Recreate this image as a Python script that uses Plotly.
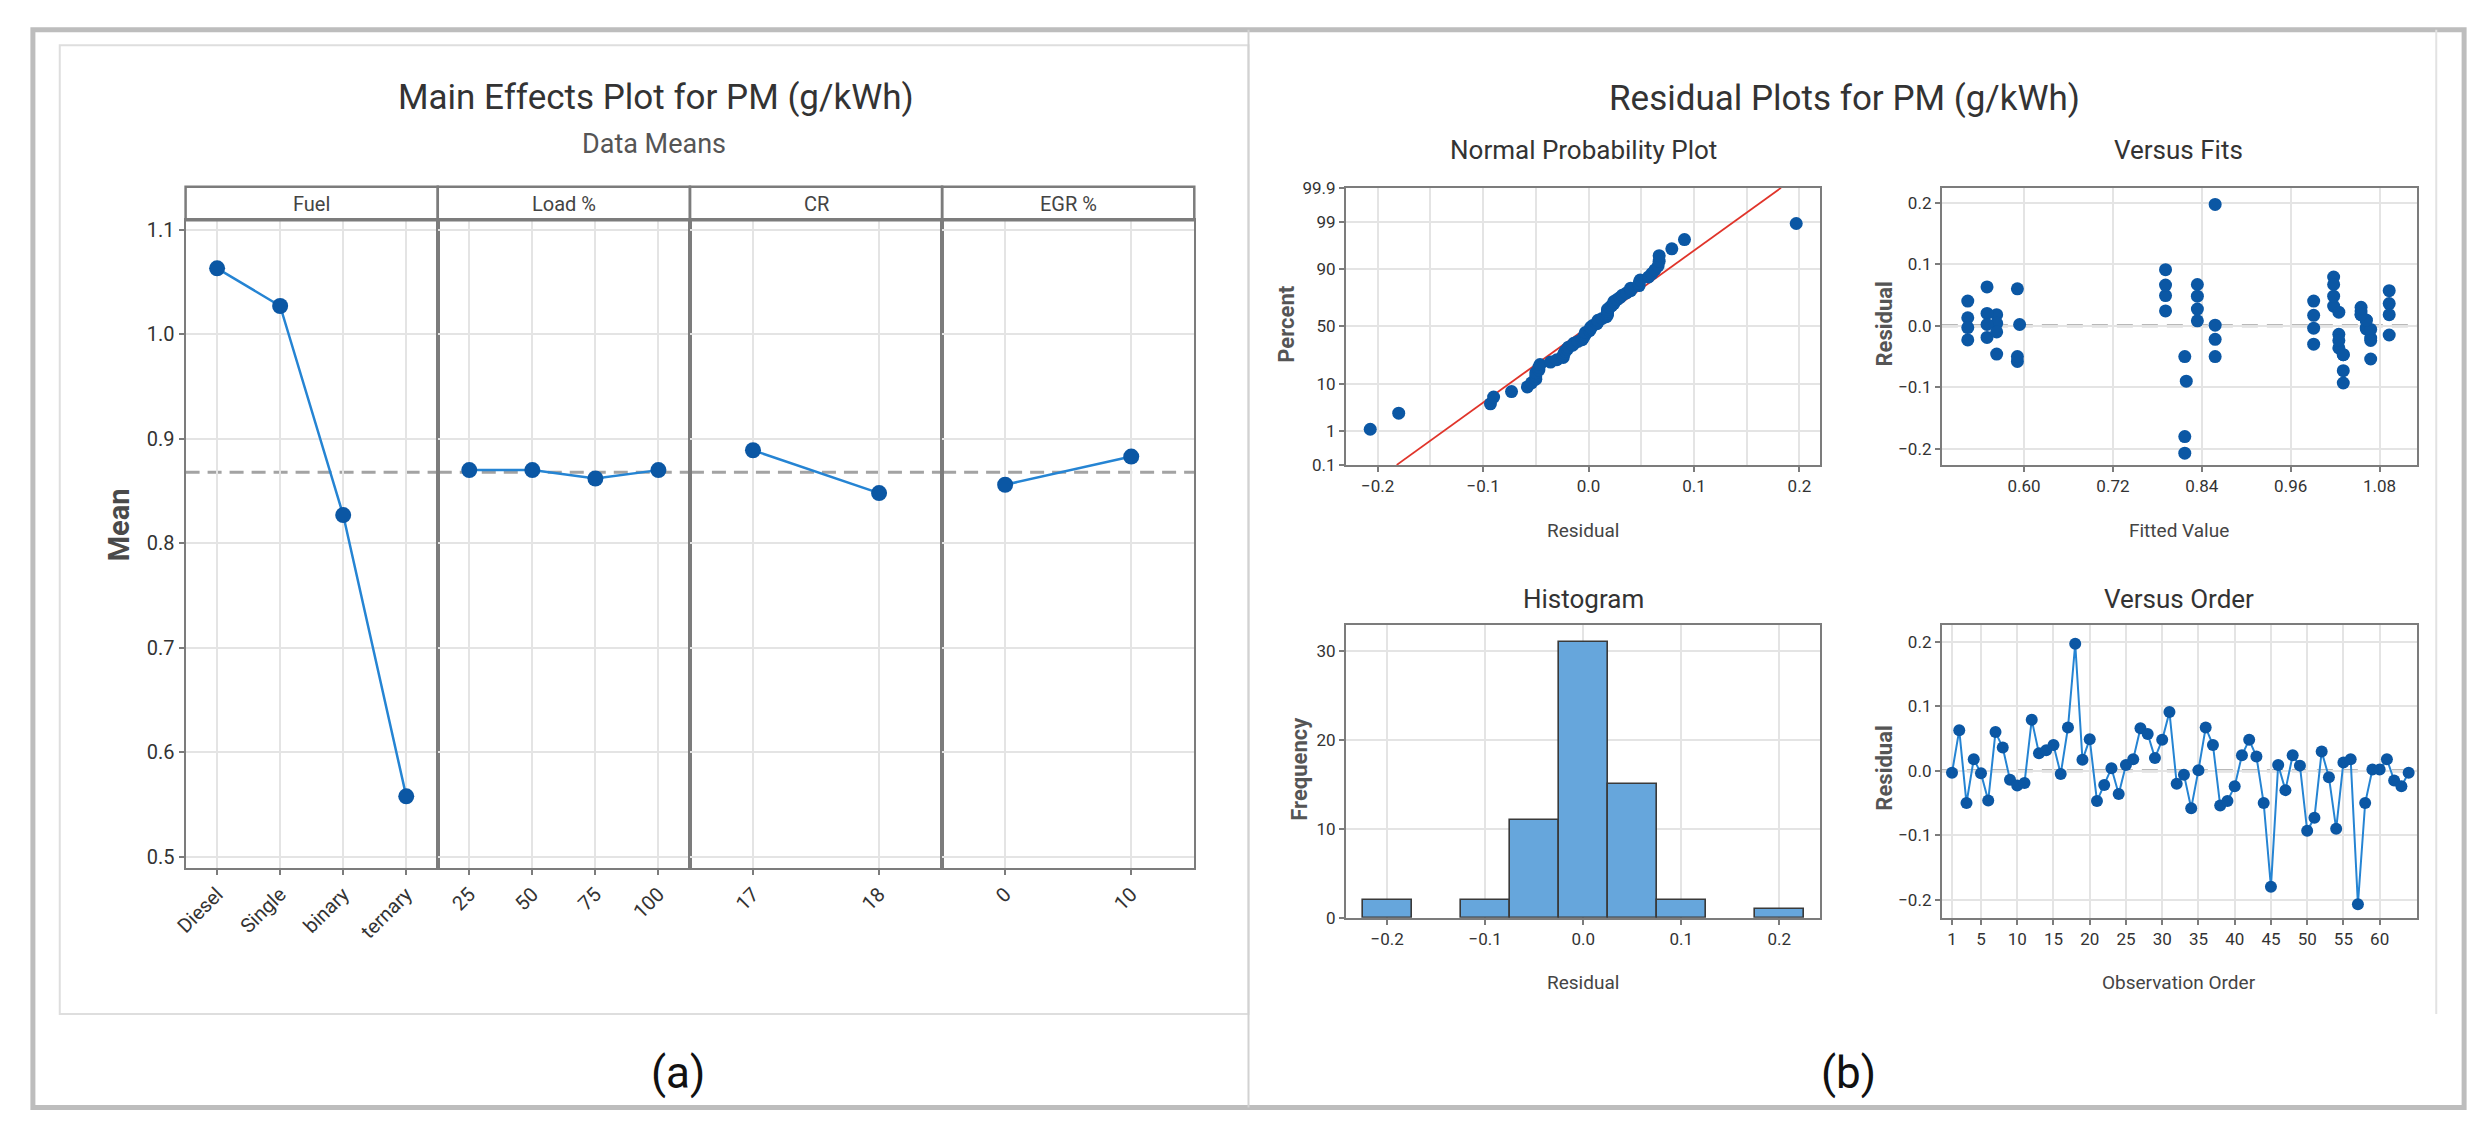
import plotly.graph_objects as go
from statistics import NormalDist

W, H = 2484, 1142
FONT = "Roboto, sans-serif"

# ---- main effects (data means) ----
fuel_levels = ["Diesel", "Single", "binary", "ternary"]
fuel_means = [1.063, 1.027, 0.827, 0.558]
load_levels = ["25", "50", "75", "100"]
load_means = [0.870, 0.870, 0.862, 0.870]
cr_levels = ["17", "18"]
cr_means = [0.889, 0.848]
egr_levels = ["0", "10"]
egr_means = [0.856, 0.883]
grand_mean = 0.868

# ---- residuals in observation order, and their fitted values ----
residuals = [-0.003, 0.063, -0.050, 0.018, -0.004, -0.046, 0.060, 0.036,
             -0.014, -0.023, -0.019, 0.079, 0.027, 0.032, 0.040, -0.005,
             0.067, 0.197, 0.017, 0.049, -0.047, -0.022, 0.004, -0.036,
             0.009, 0.018, 0.066, 0.057, 0.020, 0.048, 0.091, -0.020,
             -0.006, -0.058, 0.001, 0.067, 0.040, -0.054, -0.047, -0.024,
             0.024, 0.048, 0.022, -0.050, -0.180, 0.009, -0.030, 0.024,
             0.008, -0.093, -0.073, 0.030, -0.010, -0.090, 0.013, 0.018,
             -0.207, -0.050, 0.002, 0.002, 0.018, -0.015, -0.024, -0.003]
fitted = [1.062, 0.550, 0.858, 0.563, 0.991, 0.563, 0.591, 1.093,
          1.025, 0.524, 0.550, 1.018, 0.834, 1.018, 0.524, 1.062,
          1.018, 0.858, 0.991, 0.791, 1.031, 0.858, 0.563, 1.025,
          1.062, 1.055, 0.791, 1.093, 0.550, 1.018, 0.791, 1.068,
          1.068, 0.591, 0.858, 0.834, 0.991, 1.068, 1.031, 1.025,
          0.791, 0.834, 1.025, 0.817, 0.817, 1.062, 0.991, 1.055,
          0.834, 1.031, 1.031, 1.055, 0.563, 0.819, 0.524, 1.093,
          0.817, 0.591, 0.550, 0.594, 1.055, 1.093, 1.068, 0.524]
order = list(range(1, len(residuals) + 1))

pct_ticks = [0.1, 1, 10, 50, 90, 99, 99.9]
order_ticks = [1, 5, 10, 15, 20, 25, 30, 35, 40, 45, 50, 55, 60]
fit_ticks = [0.60, 0.72, 0.84, 0.96, 1.08]
res_ticks = [-0.2, -0.1, 0.0, 0.1, 0.2]

# normal probability plot positions (median ranks)
nd = NormalDist()
n = len(residuals)
res_sorted = sorted(residuals)
npp_z = [nd.inv_cdf((i + 0.7) / (n + 0.4)) for i in range(n)]
mu = sum(residuals) / n
sd = (sum((r - mu) ** 2 for r in residuals) / (n - 1)) ** 0.5
z_lim = nd.inv_cdf(0.999)


def px(x):
    return x / W


def py(y):
    return 1 - y / H


BLUE_M = "#0b57a4"
BLUE_L = "#2584d3"
GRID = "#e4e4e4"
FRAME = "#7c7c7c"
DASH = "#a3a3a3"


def ax(**kw):
    d = dict(showline=True, linecolor=FRAME, linewidth=2, mirror=True,
             showgrid=True, gridcolor=GRID, gridwidth=2, zeroline=False,
             ticks="outside", ticklen=5, tickwidth=1.5, tickcolor=FRAME,
             tickfont=dict(family=FONT, size=17, color="#333"))
    d.update(kw)
    return d


fig = go.Figure()

# ---- (a) main effects panels ----
panels = [(fuel_levels, fuel_means), (load_levels, load_means),
          (cr_levels, cr_means), (egr_levels, egr_means)]
strip_names = ["Fuel", "Load %", "CR", "EGR %"]
edges = [173.5, 427, 680.5, 934, 1187.5]
me_top, me_bot = 214, 873

for i, (lv, mv) in enumerate(panels):
    k = "" if i == 0 else str(i + 1)
    fig.add_trace(go.Scatter(x=lv, y=mv, mode="lines+markers",
                             xaxis="x" + k, yaxis="y" + k,
                             line=dict(color=BLUE_L, width=2.5),
                             marker=dict(color=BLUE_M, size=16),
                             showlegend=False))
    fig.layout["xaxis" + k] = ax(domain=[px(edges[i]), px(edges[i + 1])],
                                 anchor="y" + k, type="category",
                                 range=[-0.5, len(lv) - 0.5], tickangle=-45,
                                 tickfont=dict(family=FONT, size=20, color="#333"))
    yk = ax(domain=[py(me_bot), py(me_top)], anchor="x" + k,
            range=[0.4897, 1.109], tickvals=[0.5, 0.6, 0.7, 0.8, 0.9, 1.0, 1.1],
            tickformat=".1f", tickfont=dict(family=FONT, size=20, color="#333"))
    if i > 0:
        yk.update(matches="y", showticklabels=False, ticks="")
    fig.layout["yaxis" + k] = yk
    # strip header
    fig.add_shape(type="rect", xref="paper", yref="paper",
                  x0=px(edges[i]), x1=px(edges[i + 1]), y0=py(me_top), y1=py(180),
                  line=dict(color=FRAME, width=2.5))
    fig.add_annotation(x=px((edges[i] + edges[i + 1]) / 2), y=py(197),
                       xref="paper", yref="paper", text=strip_names[i],
                       xanchor="center", yanchor="middle", showarrow=False,
                       font=dict(family=FONT, size=20, color="#444"))
    fig.add_shape(type="line", xref="paper", yref="y" + k, x0=px(edges[i]),
                  x1=px(edges[i + 1]), y0=grand_mean, y1=grand_mean,
                  line=dict(color=DASH, width=3, dash="14px,8px"), layer="below")

# ---- (b) residual plots ----
npp_dom = ([px(1340), px(1817)], [py(463), py(181)])
fit_dom = ([px(1939), px(2417)], [py(463), py(181)])
his_dom = ([px(1340), px(1817)], [py(924), py(626)])
ord_dom = ([px(1939), px(2417)], [py(924), py(626)])

fig.add_trace(go.Scatter(x=[mu - sd * z_lim, mu + sd * z_lim], y=[-z_lim, z_lim],
                         mode="lines", xaxis="x5", yaxis="y5",
                         line=dict(color="#e0342a", width=1.8), showlegend=False))
fig.add_trace(go.Scatter(x=res_sorted, y=npp_z, mode="markers", xaxis="x5",
                         yaxis="y5", marker=dict(color=BLUE_M, size=13),
                         showlegend=False))
fig.layout.xaxis5 = ax(domain=npp_dom[0], anchor="y5", range=[-0.230, 0.220],
                       tickvals=res_ticks, tickformat=".1f",
                       minor=dict(dtick=0.05, tick0=0, showgrid=True,
                                  gridcolor=GRID, gridwidth=2, ticks=""))
fig.layout.yaxis5 = ax(domain=npp_dom[1], anchor="x5", range=[-z_lim, z_lim],
                       tickvals=[nd.inv_cdf(p / 100) for p in pct_ticks],
                       ticktext=[str(p) for p in pct_ticks])

fig.add_trace(go.Scatter(x=fitted, y=residuals, mode="markers", xaxis="x6",
                         yaxis="y6", marker=dict(color=BLUE_M, size=13),
                         showlegend=False))
fig.layout.xaxis6 = ax(domain=fit_dom[0], anchor="y6", range=[0.489, 1.131],
                       tickvals=fit_ticks, tickformat=".2f")
fig.layout.yaxis6 = ax(domain=fit_dom[1], anchor="x6", range=[-0.226, 0.224],
                       tickvals=res_ticks, tickformat=".1f")

fig.add_trace(go.Histogram(x=residuals, xaxis="x7", yaxis="y7",
                           xbins=dict(start=-0.225, end=0.225, size=0.05),
                           marker=dict(color="#66a6dc",
                                       line=dict(color="#3a3a3a", width=1.6)),
                           showlegend=False))
fig.layout.xaxis7 = ax(domain=his_dom[0], anchor="y7", range=[-0.242, 0.242],
                       tickvals=res_ticks, tickformat=".1f")
fig.layout.yaxis7 = ax(domain=his_dom[1], anchor="x7", range=[0, 32.9],
                       tickvals=[0, 10, 20, 30])

fig.add_trace(go.Scatter(x=order, y=residuals, mode="lines+markers", xaxis="x8",
                         yaxis="y8", line=dict(color=BLUE_L, width=2),
                         marker=dict(color=BLUE_M, size=12), showlegend=False))
fig.layout.xaxis8 = ax(domain=ord_dom[0], anchor="y8", range=[-0.4, 65.2],
                       tickvals=order_ticks)
fig.layout.yaxis8 = ax(domain=ord_dom[1], anchor="x8", range=[-0.228, 0.226],
                       tickvals=res_ticks, tickformat=".1f")

for k in ["6", "8"]:
    fig.add_shape(type="line", xref="x%s domain" % k, yref="y" + k, x0=0, x1=1,
                  y0=0, y1=0, line=dict(color=DASH, width=3, dash="16px,9px"),
                  layer="below")

# ---- frames ----
fig.add_shape(type="rect", xref="paper", yref="paper", x0=px(20), x1=px(2464),
              y0=py(1117), y1=py(20), line=dict(color="#bdbdbd", width=5))
fig.add_shape(type="rect", xref="paper", yref="paper", x0=px(47), x1=px(1242),
              y0=py(1022), y1=py(36), line=dict(color="#dedede", width=2))
fig.add_shape(type="line", xref="paper", yref="paper", x0=px(1242), x1=px(1242),
              y0=py(1117), y1=py(20), line=dict(color="#d2d2d2", width=2))
fig.add_shape(type="line", xref="paper", yref="paper", x0=px(2436), x1=px(2436),
              y0=py(1022), y1=py(20), line=dict(color="#e2e2e2", width=2))

# ---- texts ----
texts = [
    ("Main Effects Plot for PM (g/kWh)", 646, 89, 35, "#333", 0, "normal"),
    ("Data Means", 644, 136, 27, "#555", 0, "normal"),
    ("Mean", 106, 524, 29, "#4a4a4a", -90, "bold"),
    ("(a)", 668, 1082, 44, "#111", 0, "normal"),
    ("Residual Plots for PM (g/kWh)", 1841, 90, 35, "#333", 0, "normal"),
    ("Normal Probability Plot", 1579, 142, 26, "#333", 0, "normal"),
    ("Versus Fits", 2177, 142, 26, "#333", 0, "normal"),
    ("Histogram", 1579, 600, 26, "#333", 0, "normal"),
    ("Versus Order", 2177, 600, 26, "#333", 0, "normal"),
    ("Residual", 1578, 530, 19, "#444", 0, "normal"),
    ("Fitted Value", 2177, 530, 19, "#444", 0, "normal"),
    ("Residual", 1578, 990, 19, "#444", 0, "normal"),
    ("Observation Order", 2177, 990, 19, "#444", 0, "normal"),
    ("Percent", 1280, 320, 22, "#555", -90, "bold"),
    ("Residual", 1881, 320, 22, "#555", -90, "bold"),
    ("Frequency", 1293, 772, 22, "#555", -90, "bold"),
    ("Residual", 1881, 772, 22, "#555", -90, "bold"),
    ("(b)", 1845, 1082, 44, "#111", 0, "normal"),
]
for t, x, y, s, c, a, w in texts:
    fig.add_annotation(x=px(x), y=py(y), xref="paper", yref="paper", text=t,
                       xanchor="center", yanchor="middle",
                       showarrow=False, textangle=a,
                       font=dict(family=FONT, size=s, color=c, weight=w))

fig.update_layout(width=W, height=H, margin=dict(l=0, r=0, t=0, b=0),
                  paper_bgcolor="white", plot_bgcolor="white", bargap=0,
                  showlegend=False)

fig.write_html("out.html", config={"displayModeBar": False},
               post_script="document.body.style.margin='0';document.body.style.overflow='hidden';")
